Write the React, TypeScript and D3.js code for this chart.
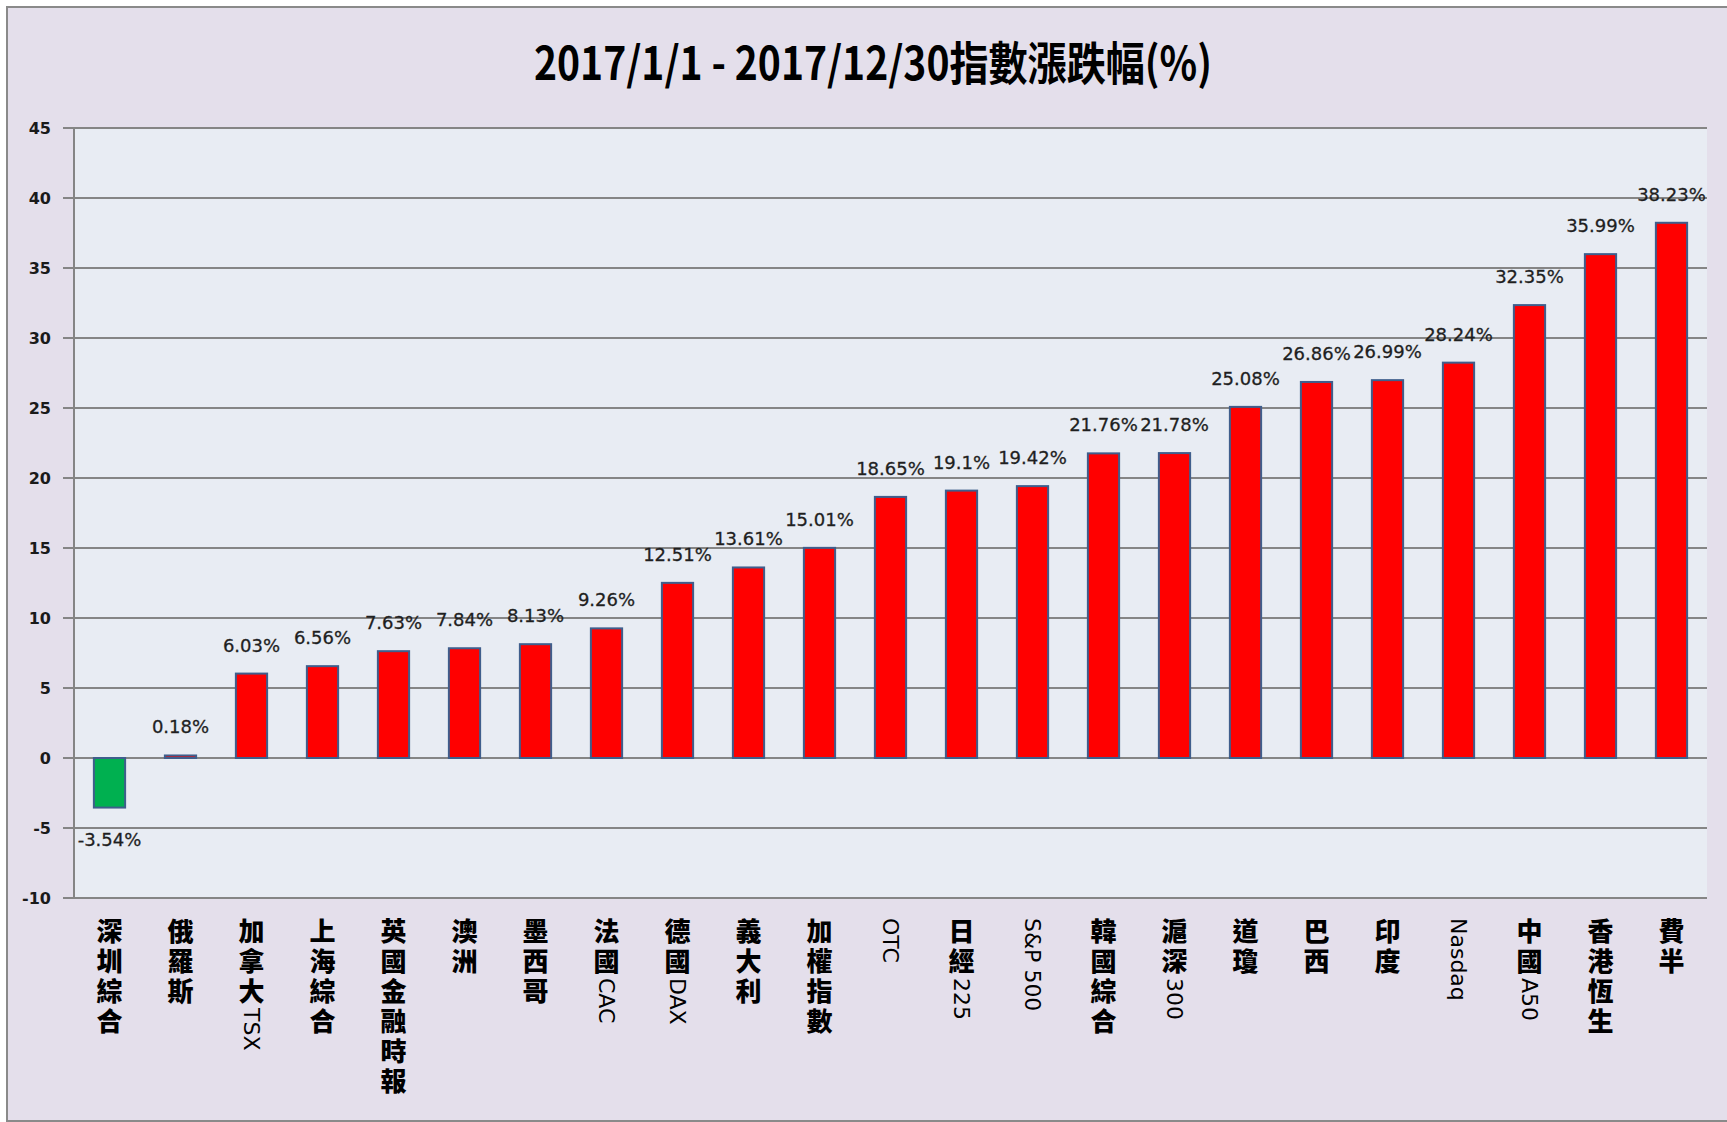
import React from 'react';
import * as d3 from 'd3';

const title = '2017/1/1 - 2017/12/30指數漲跌幅(%)';

const categories = [
  '深圳綜合', '俄羅斯', '加拿大TSX', '上海綜合', '英國金融時報', '澳洲', '墨西哥', '法國CAC',
  '德國DAX', '義大利', '加權指數', 'OTC', '日經225', 'S&P 500', '韓國綜合', '滬深300',
  '道瓊', '巴西', '印度', 'Nasdaq', '中國A50', '香港恆生', '費半',
];

const values = [
  -3.54, 0.18, 6.03, 6.56, 7.63, 7.84, 8.13, 9.26, 12.51, 13.61, 15.01, 18.65,
  19.1, 19.42, 21.76, 21.78, 25.08, 26.86, 26.99, 28.24, 32.35, 35.99, 38.23,
];

const yTicks = [-10, -5, 0, 5, 10, 15, 20, 25, 30, 35, 40, 45];

const W = 1727;
const H = 1122;
const M = { left: 74, right: 1707, top: 128, bottom: 898 };

function splitRuns(s: string): { text: string; latin: boolean }[] {
  const runs = s.match(/[\x00-\x7F]+|[^\x00-\x7F]+/g) || [];
  return runs.map((r) => ({ text: r, latin: /^[\x00-\x7F]+$/.test(r) }));
}

export default function App() {
  const y = d3.scaleLinear().domain([-10, 45]).range([M.bottom, M.top]);
  const x = d3
    .scaleBand<string>()
    .domain(categories)
    .range([M.left, M.right])
    .paddingInner(0.56)
    .paddingOuter(0.28);
  const bw = x.bandwidth();
  const y0 = y(0);

  return (
    <svg
      width={W}
      height={H}
      style={{ position: 'absolute', left: 0, top: 0, display: 'block' }}
    >
      <rect x={0} y={0} width={W} height={H} fill="#ffffff" />
      <rect x={7} y={7} width={W + 10} height={1114 - 0} fill="#E4DFEB" stroke="#8a8a8a" strokeWidth={2} />
      <text
        x={(534 + 1212) / 2}
        y={80}
        textAnchor="middle"
        fontFamily="'Noto Sans CJK TC', 'Noto Sans CJK SC', sans-serif"
        fontWeight={700}
        fontSize={46}
        fill="#000"
        textLength={678}
        lengthAdjust="spacingAndGlyphs"
      >
        {title}
      </text>

      <rect x={M.left} y={M.top} width={M.right - M.left} height={M.bottom - M.top} fill="#E8ECF3" />

      {yTicks.map((t) => (
        <g key={t}>
          <line x1={M.left - 11} x2={M.right} y1={y(t)} y2={y(t)} stroke="#858585" strokeWidth={2} />
          <text
            x={51}
            y={y(t)}
            dy="0.36em"
            textAnchor="end"
            fontFamily="'DejaVu Sans', sans-serif"
            fontWeight={700}
            fontSize={16}
            fill="#1a1a1a"
          >
            {t}
          </text>
        </g>
      ))}
      <line x1={M.left} x2={M.left} y1={M.top} y2={M.bottom} stroke="#858585" strokeWidth={2} />

      {categories.map((c, i) => {
        const v = values[i];
        const bx = x(c)!;
        const top = Math.min(y(v), y0);
        const h = Math.abs(y(v) - y0);
        return (
          <g key={c}>
            <rect
              x={bx}
              y={top}
              width={bw}
              height={h}
              fill={v < 0 ? '#00B050' : '#FF0000'}
              stroke="#3F5E8C"
              strokeWidth={2}
            />
            <text
              x={bx + bw / 2}
              y={v < 0 ? y(v) + 38 : y(v) - 22}
              textAnchor="middle"
              fontFamily="'DejaVu Sans', sans-serif"
              fontSize={18}
              fill="#1f1f1f"
              stroke="#1f1f1f"
              strokeWidth={0.3}
            >
              {`${v}%`}
            </text>
            <text
              x={bx + bw / 2}
              y={918}
              textAnchor="start"
              style={{ writingMode: 'vertical-rl', textOrientation: 'mixed' } as any}
              fill="#000"
            >
              {splitRuns(c).map((r, k) =>
                r.latin ? (
                  <tspan
                    key={k}
                    fontFamily="'DejaVu Sans', sans-serif"
                    fontSize={22}
                    fontWeight={400}
                  >
                    {r.text}
                  </tspan>
                ) : (
                  <tspan
                    key={k}
                    fontFamily="'Noto Sans CJK TC', 'Noto Sans CJK SC', sans-serif"
                    fontSize={26}
                    fontWeight={900}
                    letterSpacing={4}
                  >
                    {r.text}
                  </tspan>
                )
              )}
            </text>
          </g>
        );
      })}
    </svg>
  );
}
